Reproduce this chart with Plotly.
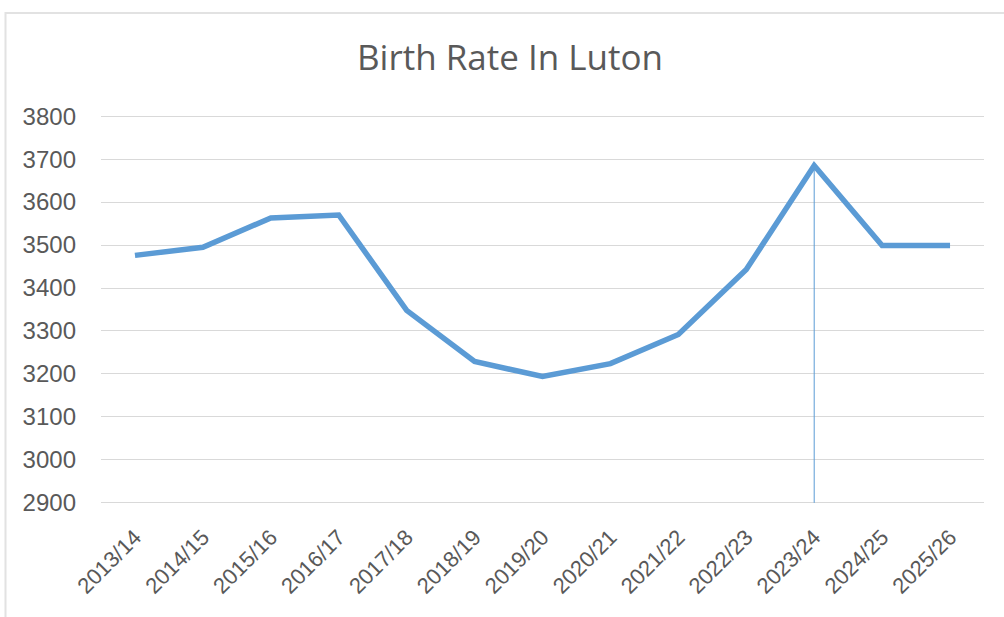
import plotly.graph_objects as go

categories = ["2013/14", "2014/15", "2015/16", "2016/17", "2017/18", "2018/19",
              "2019/20", "2020/21", "2021/22", "2022/23", "2023/24", "2024/25", "2025/26"]
births = [3476, 3495, 3563, 3570, 3348, 3229, 3194, 3224, 3292, 3443, 3685, 3499, 3499]
y_ticks = [2900, 3000, 3100, 3200, 3300, 3400, 3500, 3600, 3700, 3800]
title_text = "Birth Rate In Luton"

blue = "#5B9BD5"
grey_text = "#595959"

peak_idx = births.index(max(births))

W, H = 1004, 617

fig = go.Figure()
fig.add_trace(go.Scatter(
    x=categories, y=births, mode="lines",
    line=dict(color=blue, width=5.5),
    showlegend=False,
))
# drop line at the peak
fig.add_trace(go.Scatter(
    x=[categories[peak_idx], categories[peak_idx]],
    y=[y_ticks[0], births[peak_idx]],
    mode="lines", line=dict(color=blue, width=1),
    hoverinfo="skip", showlegend=False,
))

fig.update_layout(
    width=W, height=H,
    margin=dict(l=101, r=20, t=114, b=112, autoexpand=False),
    paper_bgcolor="white", plot_bgcolor="white",
    title=dict(text=title_text, x=510 / W, xanchor="center",
               y=1 - 58 / H, yanchor="middle",
               font=dict(family="Open Sans", size=35, color=grey_text)),
    font=dict(family="Liberation Sans", color=grey_text),
    shapes=[dict(type="rect", xref="paper", yref="paper",
                 x0=(5.5 - 101) / 883, x1=1.5, y0=-1.0, y1=(505 - 13) / 391,
                 line=dict(color="#e2e2e2", width=2), fillcolor="rgba(0,0,0,0)",
                 layer="below")],
)
fig.update_xaxes(
    type="category", categoryorder="array", categoryarray=categories,
    range=[-0.5, len(categories) - 0.5],
    showgrid=False, zeroline=False, showline=False,
    tickangle=-45, tickfont=dict(size=22, color=grey_text),
    ticks="", ticklabelstandoff=14, automargin=False,
)
fig.update_yaxes(
    range=[y_ticks[0] - 5, y_ticks[-1] + 5], tickvals=y_ticks,
    showgrid=True, gridcolor="#d9d9d9", gridwidth=1.3,
    zeroline=False, showline=False,
    tickfont=dict(size=24, color=grey_text),
    ticks="", ticklabelstandoff=24, automargin=False,
)

fig.write_html("out.html", config={"displayModeBar": False},
               post_script="document.body.style.margin='0';")
